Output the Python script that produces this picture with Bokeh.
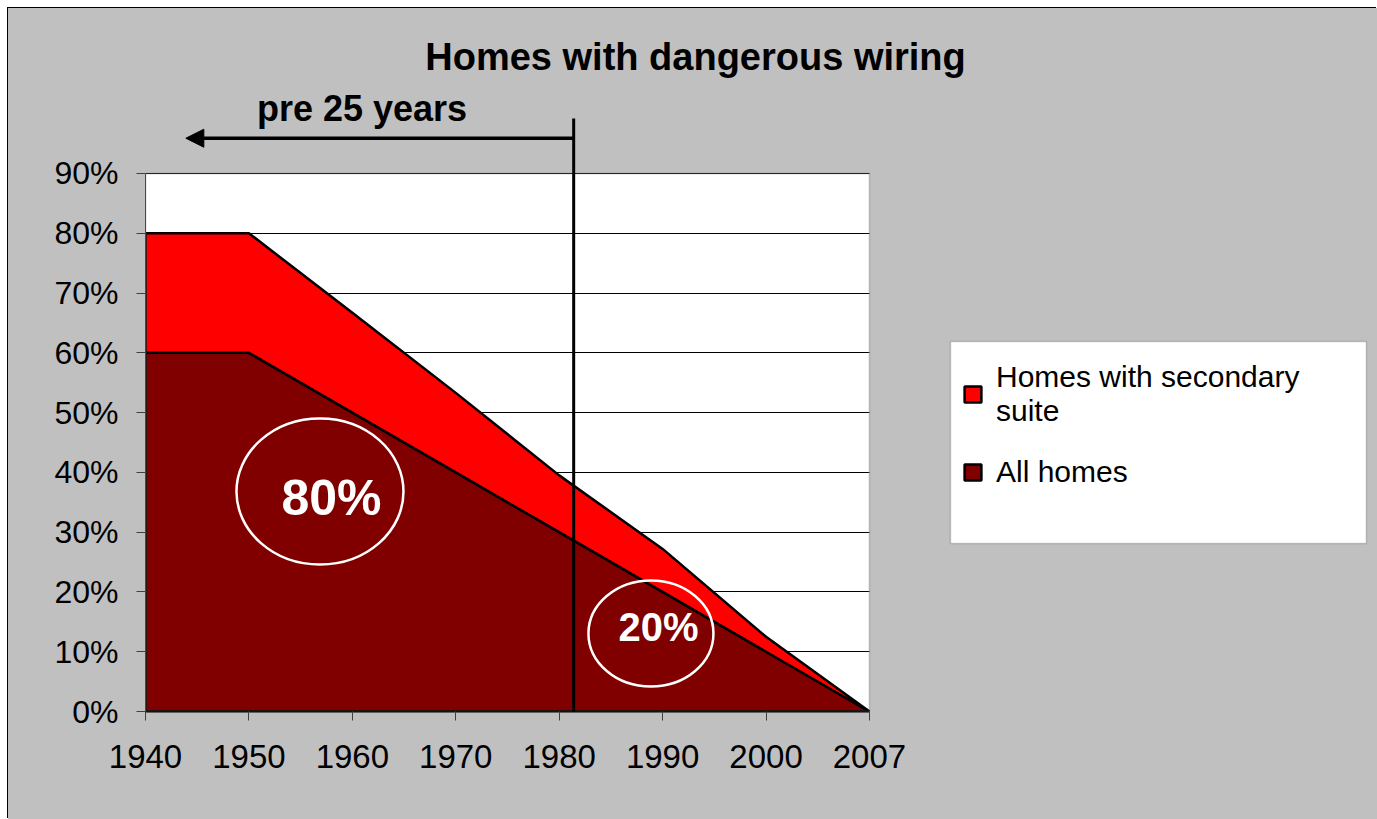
from bokeh.plotting import figure
from bokeh.models import (Legend, LegendItem, Label, Arrow, NormalHead, ColumnDataSource,
                          FixedTicker, PrintfTickFormatter, Range1d, BoxAnnotation)
from bokeh.embed import file_html
from bokeh.resources import INLINE

# ---- data ----
years = ["1940", "1950", "1960", "1970", "1980", "1990", "2000", "2007"]
all_homes = [60, 60, 50, 40, 30, 20, 10, 0]
secondary_suite = [20, 20, 16.7, 13.3, 9.5, 7.2, 2.5, 0]
y_ticks = [0, 10, 20, 30, 40, 50, 60, 70, 80, 90]
series_names = ["All homes", "Homes with secondary\nsuite"]
series_colors = ["#800000", "#FF0000"]

title_text = "Homes with dangerous wiring"
marker_text = "pre 25 years"
circle_texts = ["80%", "20%"]

# ---- layout constants (category index / percent units) ----
x_view_end = 11.912     # frame continues right of the plot box to hold legend/title
y_view_end = 117.6      # frame continues above the plot box to hold title/arrow
cutoff_x = 4.14
FONT = "Liberation Sans"
GRAY = "#C0C0C0"

n = len(years)
x_idx = list(range(n))
total = [a + s for a, s in zip(all_homes, secondary_suite)]
x_last = x_idx[-1]

p = figure(width=1369, height=811, output_backend="svg", toolbar_location=None,
           x_range=Range1d(0, x_view_end), y_range=Range1d(y_ticks[0], y_view_end),
           min_border_left=137, min_border_right=0, min_border_top=0, min_border_bottom=108)
p.styles = {"margin-left": "8px", "margin-top": "8px", "box-shadow": "-1px -1px 0 0 #000",
            "background-color": GRAY}
p.background_fill_color = GRAY
p.border_fill_color = GRAY
p.outline_line_color = None

# white plot box (below the grid) and gray cover for grid lines right of it
p.add_layout(BoxAnnotation(left=0, right=x_last, bottom=y_ticks[0], top=y_ticks[-1],
                           fill_color="white", fill_alpha=1, line_color=None, level="image"))
p.add_layout(BoxAnnotation(left=x_last, fill_color=GRAY, fill_alpha=1,
                           line_color=None, level="underlay"))

# stacked areas as outlined patches
src_all = ColumnDataSource(dict(x=x_idx + x_idx[::-1], y=all_homes + [0] * n))
src_sec = ColumnDataSource(dict(x=x_idx + x_idx[::-1], y=total + all_homes[::-1]))
r_all = p.patch("x", "y", source=src_all, fill_color=series_colors[0],
                line_color="black", line_width=2.5)
r_sec = p.patch("x", "y", source=src_sec, fill_color=series_colors[1],
                line_color="black", line_width=2.5)

# plot box border
p.add_layout(BoxAnnotation(left=0, right=x_last, bottom=y_ticks[0], top=y_ticks[-1],
                           fill_alpha=0, line_color="#808080", line_width=2,
                           level="annotation"))

# axes
p.xaxis.ticker = FixedTicker(ticks=x_idx)
p.xaxis.bounds = (0, x_last)
p.xaxis.major_label_overrides = {i: y for i, y in enumerate(years)}
p.xaxis.minor_tick_line_color = None
p.xaxis.major_tick_in = 0
p.xaxis.major_tick_out = 9
p.xaxis.major_tick_line_color = "#404040"
p.xaxis.axis_line_color = "black"
p.xaxis.axis_line_width = 2
p.xaxis.major_label_text_font = FONT
p.xaxis.major_label_text_font_size = "33px"
p.xaxis.major_label_text_color = "black"
p.xaxis.major_label_standoff = 24

p.yaxis.ticker = FixedTicker(ticks=y_ticks)
p.yaxis.bounds = (y_ticks[0], y_ticks[-1])
p.yaxis.formatter = PrintfTickFormatter(format="%d%%")
p.yaxis.minor_tick_line_color = None
p.yaxis.major_tick_in = 0
p.yaxis.major_tick_out = 9
p.yaxis.major_tick_line_color = "#404040"
p.yaxis.axis_line_color = "#404040"
p.yaxis.major_label_text_font = FONT
p.yaxis.major_label_text_font_size = "32px"
p.yaxis.major_label_text_color = "black"
p.yaxis.major_label_standoff = 18

p.xgrid.grid_line_color = None
p.ygrid.ticker = FixedTicker(ticks=y_ticks)
p.ygrid.grid_line_color = "black"
p.ygrid.grid_line_width = 1

# ellipses and their labels
p.ellipse(x=[1.687, 4.887], y=[36.8, 13.05], width=[167, 125], height=[146, 106],
          width_units="screen", height_units="screen", fill_color=None,
          line_color="white", line_width=2.5)
p.add_layout(Label(x=1.798, y=35.7, text=circle_texts[0], text_font=FONT, text_font_style="bold",
                   text_font_size="50px", text_color="white", text_align="center",
                   text_baseline="alphabetic"))
p.add_layout(Label(x=4.96, y=14.1, text=circle_texts[1], text_font=FONT, text_font_style="bold",
                   text_font_size="40px", text_color="white", text_align="center",
                   text_baseline="alphabetic"))

# cutoff line + arrow
p.add_layout(Arrow(end=None, x_start=cutoff_x, y_start=-0.9, x_end=cutoff_x, y_end=99.2,
                   line_color="black", line_width=3))
p.add_layout(Arrow(end=NormalHead(size=18, fill_color="black", line_color="black"),
                   x_start=cutoff_x, y_start=95.9, x_end=0.39, y_end=95.9,
                   line_color="black", line_width=3.5))
p.add_layout(Label(x=2.093, y=100.8, text=marker_text, text_font=FONT, text_font_style="bold",
                   text_font_size="36px", text_color="black", text_align="center",
                   text_baseline="alphabetic"))
p.add_layout(Label(x=5.318, y=109.5, text=title_text, text_font=FONT, text_font_style="bold",
                   text_font_size="38px", text_color="black", text_align="center",
                   text_baseline="alphabetic"))

# legend frame + legend entries
p.add_layout(BoxAnnotation(left=7.783, right=11.805, bottom=28.1, top=61.9,
                           fill_color="white", fill_alpha=1, line_color="#555555",
                           line_width=1.5, level="annotation"))
legend = Legend(items=[LegendItem(label=series_names[1], renderers=[r_sec]),
                       LegendItem(label=series_names[0], renderers=[r_all])],
                location=(817, 222))
legend.label_text_font = FONT
legend.label_text_font_size = "30px"
legend.label_text_color = "black"
legend.glyph_width = 21
legend.glyph_height = 20
legend.label_standoff = 13
legend.padding = 0
legend.spacing = 27
legend.margin = 0
legend.border_line_color = None
legend.background_fill_alpha = 0
p.add_layout(legend)

open("out.html", "w").write(file_html(p, INLINE))
